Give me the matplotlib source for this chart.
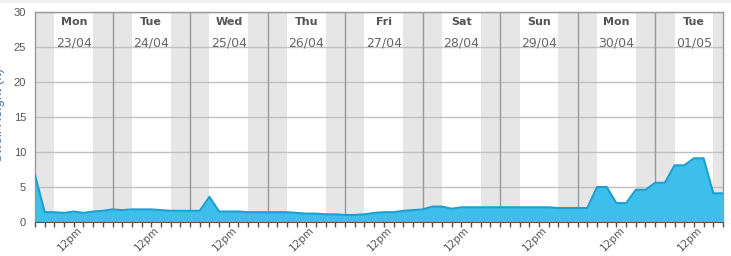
import numpy as np
import matplotlib.pyplot as plt
import matplotlib.transforms as mtrans
from matplotlib.patches import Rectangle

# swell height, 3-hourly from Mon 23/04 00:00 to Tue 01/05 21:00
day_names = ['Mon', 'Tue', 'Wed', 'Thu', 'Fri', 'Sat', 'Sun', 'Mon', 'Tue']
day_dates = ['23/04', '24/04', '25/04', '26/04', '27/04', '28/04', '29/04', '30/04', '01/05']

mon23 = [6.7, 1.4, 1.4, 1.3, 1.5, 1.3, 1.5, 1.6]
tue24 = [1.8, 1.7, 1.8, 1.8, 1.8, 1.7, 1.6, 1.6]
wed25 = [1.6, 1.6, 3.6, 1.5, 1.5, 1.5, 1.4, 1.4]
thu26 = [1.4, 1.4, 1.4, 1.3, 1.2, 1.2, 1.1, 1.1]
fri27 = [1.0, 1.0, 1.1, 1.3, 1.4, 1.4, 1.6, 1.7]
sat28 = [1.8, 2.2, 2.2, 1.9, 2.1, 2.1, 2.1, 2.1]
sun29 = [2.1, 2.1, 2.1, 2.1, 2.1, 2.1, 2.0, 2.0]
mon30 = [2.0, 2.0, 5.0, 5.0, 2.7, 2.7, 4.6, 4.6]
tue01 = [5.6, 5.6, 8.1, 8.1, 9.1, 9.1, 4.1, 4.1]

swell = np.array(mon23 + tue24 + wed25 + thu26 + fri27 + sat28 + sun29 + mon30 + tue01)
hours = np.arange(len(swell)) * 3
y_ticks = [0, 5, 10, 15, 20, 25, 30]

fig = plt.figure(figsize=(7.31, 2.56), dpi=100)
# faint strip at the very top
fig.patches.append(Rectangle((0, 253 / 256), 1, 3 / 256, transform=fig.transFigure,
                             color='#f0f0f0', lw=0))
ax = fig.add_axes([35 / 731, 34 / 256, 688 / 731, 210 / 256])
x_end = hours[-1]

# night shading 18:00 - 06:00
for d in range(len(day_names)):
    s = d * 24
    ax.axvspan(s, s + 6, color='#e6e6e6', lw=0, zorder=0)
    ax.axvspan(s + 18, s + 30, color='#e6e6e6', lw=0, zorder=0)

for y in y_ticks[1:]:
    ax.axhline(y, color='#c0c0c0', lw=1, zorder=1)
for d in range(1, len(day_names)):
    ax.axvline(d * 24, color='#999999', lw=1, zorder=1)

ax.fill_between(hours, swell, 0, color='#3cbfeb', lw=0, zorder=2)
ax.plot(hours, swell, color='#1e9fd2', lw=1.5, zorder=3, solid_joinstyle='round')

for d, (nm, dt) in enumerate(zip(day_names, day_dates)):
    ax.text(d * 24 + 12, 28.6, nm, ha='center', va='center', fontsize=8,
            fontweight='bold', color='#555555', zorder=4)
    ax.text(d * 24 + 12, 25.5, dt, ha='center', va='center', fontsize=9,
            color='#666666', zorder=4)

ax.set_xlim(0, x_end)
ax.set_ylim(0, 30)
ax.set_yticks(y_ticks)
ax.set_yticklabels([str(v) for v in y_ticks], fontsize=8, color='#555555',
                   family='Liberation Sans')
ax.tick_params(axis='y', length=0, pad=6.5)

ax.set_xticks(np.arange(0, x_end + 1, 3), minor=True)
noon = np.arange(12, x_end + 1, 24)
ax.set_xticks(noon)
ax.set_xticklabels(['12pm'] * len(noon), rotation=45, ha='center', va='top',
                   fontsize=7.5, color='#555555')
ax.tick_params(axis='x', which='both', length=3.5, color='#555555', width=1, pad=-1.5)
shift = mtrans.ScaledTranslation(-4 / 100, 0, fig.dpi_scale_trans)
for lb in ax.get_xticklabels():
    lb.set_transform(lb.get_transform() + shift)

for side in ['top', 'right', 'left']:
    ax.spines[side].set_color('#999999')
    ax.spines[side].set_linewidth(1)
ax.spines['bottom'].set_color('#555555')

fig.text(-1 / 731, 0.55, 'Swell Height (ft)', rotation=90, ha='center', va='center',
         fontsize=9.5, color='#4d759e', family='Liberation Sans')

fig.savefig('out.png', dpi=100)
